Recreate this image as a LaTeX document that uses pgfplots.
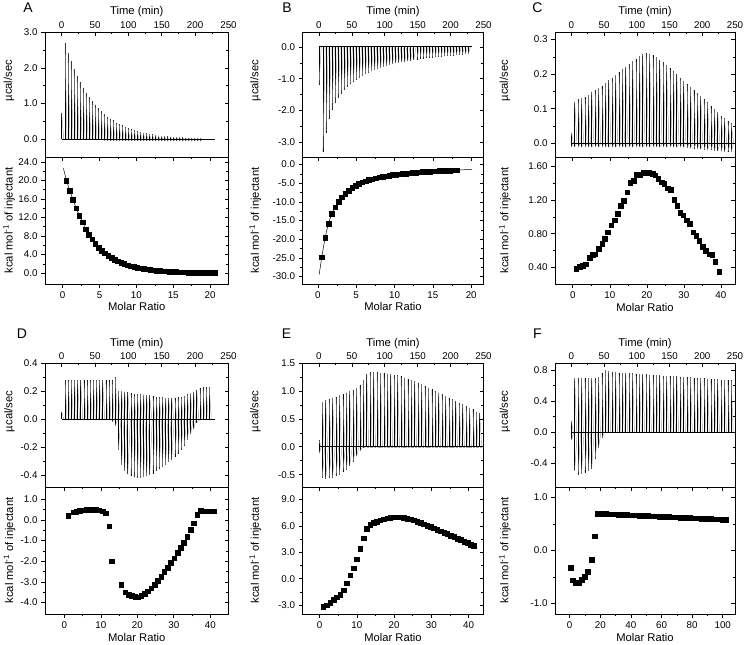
\documentclass[border=0pt]{standalone}
\usepackage{pgfplots}
\usepackage{pgfplotstable}
\pgfplotsset{compat=1.18}
\usepackage{fontspec}
\setmainfont{Liberation Sans}

\pgfplotsset{
  itcbase/.style={scale only axis, clip=true,
    axis line style={line width=0.7pt},
    tick style={line width=0.6pt, black},
    major tick length=4pt, minor tick length=2.4pt,
    minor x tick num=1, minor y tick num=1,
    tick label style={font=\fontsize{9.8}{11}\selectfont},
    label style={font=\fontsize{11.2}{13}\selectfont},
    /pgf/number format/assume math mode=true,
    scaled ticks=false,
    yticklabel style={/pgf/number format/fixed, /pgf/number format/fixed zerofill, /pgf/number format/precision=1},
  },
  outerax/.style={itcbase, tick align=outside, xtick pos=left, ytick pos=left},
  innerax/.style={itcbase, tick align=inside, xtick pos=right, ytick pos=right, yticklabels={}},
  spikeup/.style={black, line width=0.5pt, mark=none},
  spikedn/.style={gray!70, line width=0.5pt, mark=none},
  baseln/.style={black, line width=0.9pt, mark=none},
  sq/.style={only marks, mark=square*, mark size=2.3pt, black},
  fitln/.style={black, line width=0.5pt, mark=none},
}

% ---------------- Panel A ----------------
\pgfplotstableread{
t p n
0 0.75 0
5.0 2.68 0
9.5 2.42 0
14.0 2.19 0
18.5 1.97 0
23.0 1.78 0
27.5 1.61 0
32.0 1.45 0
36.5 1.31 0
41.0 1.19 0
45.5 1.07 0
50.0 0.97 0
54.5 0.87 0
59.0 0.79 0
63.5 0.71 -0.04
68.0 0.64 -0.04
72.5 0.58 -0.05
77.0 0.53 -0.05
81.5 0.47 -0.05
86.0 0.43 -0.05
90.5 0.39 -0.05
95.0 0.35 -0.05
99.5 0.31 -0.05
104.0 0.28 -0.05
108.5 0.26 -0.05
113.0 0.23 -0.05
117.5 0.21 -0.05
122.0 0.19 -0.05
126.5 0.17 -0.05
131.0 0.15 -0.05
135.5 0.14 -0.05
140.0 0.13 -0.05
144.5 0.11 -0.05
149.0 0.10 -0.05
153.5 0.09 -0.05
158.0 0.085 -0.05
162.5 0.08 -0.05
167.0 0.07 -0.05
171.5 0.065 -0.05
176.0 0.06 -0.05
180.5 0.055 -0.05
185.0 0.05 -0.05
189.5 0.05 -0.05
194.0 0.045 -0.05
198.5 0.04 -0.05
203.0 0.04 -0.05
207.5 0.04 -0.05
}\Atop
\pgfplotstableread{
x y
0.50 20.0
0.94 17.8
1.37 15.9
1.81 14.0
2.25 12.4
2.69 11.0
3.12 9.5
3.56 8.3
4.00 7.3
4.43 6.3
4.87 5.5
5.31 4.84
5.74 4.26
6.18 3.75
6.62 3.30
7.06 2.90
7.49 2.55
7.93 2.25
8.37 1.98
8.80 1.74
9.24 1.53
9.68 1.35
10.11 1.19
10.55 1.04
10.99 0.92
11.43 0.81
11.86 0.71
12.30 0.63
12.74 0.55
13.17 0.48
13.61 0.43
14.05 0.37
14.48 0.33
14.92 0.29
15.36 0.26
15.80 0.22
16.23 0.20
16.67 0.17
17.11 0.15
17.54 0.13
17.98 0.12
18.42 0.10
18.85 0.09
19.29 0.08
19.73 0.07
20.17 0.06
20.60 0.05
}\Abot
\pgfplotstableread{
x y
0.1 22.6
0.5 20.1
1.0 17.6
1.5 15.4
2.0 13.4
3.0 10.0
4.0 7.4
5.0 5.4
6.0 3.95
8.0 2.15
10.0 1.18
12.0 0.67
14.0 0.38
16.0 0.21
18.0 0.12
20.6 0.05
}\Afit

% ---------------- Panel B ----------------
\pgfplotstableread{
t p
0 -1.2
6.0 -3.3
10.6 -2.72
15.2 -2.28
19.8 -1.98
24.4 -1.76
29.0 -1.60
33.6 -1.47
38.2 -1.36
42.8 -1.26
47.4 -1.18
52.0 -1.10
56.6 -1.03
61.2 -0.97
65.8 -0.91
70.4 -0.86
75.0 -0.81
79.6 -0.77
84.2 -0.73
88.8 -0.69
93.4 -0.66
98.0 -0.63
102.6 -0.60
107.2 -0.57
111.8 -0.55
116.4 -0.52
121.0 -0.50
125.6 -0.48
130.2 -0.46
134.8 -0.44
139.4 -0.43
144.0 -0.41
148.6 -0.40
153.2 -0.38
157.8 -0.37
162.4 -0.36
167.0 -0.35
171.6 -0.34
176.2 -0.33
180.8 -0.32
185.4 -0.31
190.0 -0.30
194.6 -0.29
199.2 -0.28
203.8 -0.27
208.4 -0.26
213.0 -0.25
217.6 -0.24
222.2 -0.23
226.8 -0.22
}\Btop
\pgfplotstableread{
x y
0.50 -24.8
0.94 -19.6
1.38 -15.8
1.82 -13.2
2.26 -11.4
2.70 -9.9
3.14 -8.8
3.58 -7.8
4.02 -7.0
4.46 -6.3
4.90 -5.7
5.34 -5.2
5.78 -4.8
6.22 -4.45
6.66 -4.15
7.10 -3.9
7.54 -3.65
7.98 -3.45
8.42 -3.25
8.86 -3.1
9.30 -2.95
9.74 -2.8
10.18 -2.7
10.62 -2.6
11.06 -2.5
11.50 -2.4
11.94 -2.3
12.38 -2.22
12.82 -2.15
13.26 -2.08
13.70 -2.0
14.14 -1.95
14.58 -1.89
15.02 -1.83
15.46 -1.78
15.90 -1.73
16.34 -1.68
16.78 -1.64
17.22 -1.6
17.66 -1.56
18.10 -1.52
}\Bbot
\pgfplotstableread{
x y
0.17 -29.5
0.5 -25.0
0.94 -19.6
1.38 -15.8
1.82 -13.1
2.26 -11.3
3.14 -8.8
4.02 -7.0
5.34 -5.2
7.10 -3.9
9.30 -2.95
12.38 -2.22
15.90 -1.73
18.10 -1.52
20.1 -1.3
}\Bfit

% ---------------- Panel C ----------------
\pgfplotstableread{
t p n
0 0.03 -0.01
5.0 0.120 -0.01
10.2 0.127 -0.012
15.4 0.131 -0.012
20.6 0.135 -0.012
25.8 0.140 -0.012
31.0 0.147 -0.012
36.2 0.153 -0.012
41.4 0.160 -0.012
46.6 0.167 -0.012
51.8 0.175 -0.012
57.0 0.182 -0.012
62.2 0.190 -0.012
67.4 0.198 -0.012
72.6 0.206 -0.012
77.8 0.214 -0.012
83.0 0.222 -0.012
88.2 0.230 -0.012
93.4 0.238 -0.012
98.6 0.245 -0.012
103.8 0.252 -0.012
109.0 0.257 -0.012
114.2 0.260 -0.012
119.4 0.259 -0.012
124.6 0.255 -0.012
129.8 0.249 -0.012
135.0 0.242 -0.012
140.2 0.234 -0.012
145.4 0.226 -0.012
150.6 0.217 -0.012
155.8 0.208 -0.012
161.0 0.199 -0.012
166.2 0.190 -0.012
171.4 0.181 -0.012
176.6 0.172 -0.014
181.8 0.163 -0.015
187.0 0.154 -0.016
192.2 0.145 -0.017
197.4 0.136 -0.018
202.6 0.127 -0.019
207.8 0.118 -0.02
213.0 0.109 -0.021
218.2 0.100 -0.022
223.4 0.090 -0.023
228.6 0.080 -0.024
233.8 0.072 -0.025
239.0 0.064 -0.025
244.2 0.058 -0.025
}\Ctop
\pgfplotstableread{
x y
0.9 0.39
1.8 0.41
2.6 0.42
3.5 0.44
4.5 0.52
5.4 0.55
6.1 0.56
7.0 0.62
7.9 0.68
8.6 0.74
9.5 0.82
10.4 0.90
11.3 0.96
12.2 1.04
13.0 1.13
13.8 1.19
14.7 1.29
15.5 1.40
16.4 1.43
17.2 1.50
18.1 1.50
19.1 1.52
19.9 1.52
20.6 1.52
21.5 1.51
22.3 1.49
23.1 1.45
24.0 1.41
24.7 1.39
25.6 1.34
26.5 1.32
27.4 1.20
28.2 1.13
29.0 1.05
29.8 1.02
30.7 0.96
31.5 0.92
32.5 0.82
33.3 0.78
34.1 0.72
35.0 0.65
35.9 0.60
36.8 0.56
37.6 0.55
38.5 0.47
39.5 0.35
}\Cbot

% ---------------- Panel D ----------------
\pgfplotstableread{
t p n
0 0.05 0
5.0 0.275 -0.008
9.7 0.275 -0.008
14.4 0.275 -0.008
19.1 0.275 -0.008
23.8 0.275 -0.008
28.5 0.275 -0.008
33.2 0.275 -0.008
37.9 0.275 -0.008
42.6 0.275 -0.008
47.3 0.275 -0.008
52.0 0.275 -0.008
56.7 0.275 -0.008
61.4 0.275 -0.008
66.1 0.275 -0.008
70.8 0.275 -0.01
75.5 0.275 -0.02
80.2 0.30 -0.05
84.9 0.20 -0.22
89.6 0.20 -0.33
94.3 0.195 -0.37
99.0 0.19 -0.395
103.7 0.185 -0.41
108.4 0.18 -0.415
113.1 0.178 -0.42
117.8 0.175 -0.42
122.5 0.172 -0.415
127.2 0.17 -0.41
131.9 0.168 -0.40
136.6 0.165 -0.39
141.3 0.16 -0.375
146.0 0.158 -0.36
150.7 0.155 -0.345
155.4 0.153 -0.33
160.1 0.152 -0.31
164.8 0.152 -0.29
169.5 0.152 -0.27
174.2 0.155 -0.25
178.9 0.16 -0.22
183.6 0.165 -0.19
188.3 0.175 -0.15
193.0 0.185 -0.11
197.7 0.195 -0.07
202.4 0.21 -0.03
207.1 0.22 -0.01
211.8 0.225 0
216.5 0.225 0
221.2 0.225 0
}\Dtop
\pgfplotstableread{
x y
1.1 0.21
2.4 0.37
3.3 0.41
4.2 0.44
5.1 0.47
6.0 0.49
6.9 0.50
7.8 0.50
8.7 0.49
9.6 0.47
10.5 0.43
11.4 0.33
12.3 -0.31
13.0 -2.00
15.6 -3.15
16.7 -3.50
17.6 -3.62
18.5 -3.68
19.4 -3.73
20.2 -3.74
21.1 -3.68
22.0 -3.58
22.9 -3.45
23.8 -3.30
24.7 -3.13
25.6 -2.95
26.5 -2.75
27.4 -2.52
28.3 -2.30
29.2 -2.08
30.1 -1.85
31.0 -1.60
31.9 -1.35
32.8 -1.10
33.7 -0.80
34.6 -0.48
35.5 -0.15
36.4 0.25
37.3 0.45
38.2 0.43
39.1 0.43
40.0 0.43
40.9 0.43
}\Dbot

% ---------------- Panel E ----------------
\pgfplotstableread{
t p n
0 0.12 -0.12
5.0 0.80 -0.55
10.2 0.83 -0.57
15.4 0.85 -0.56
20.6 0.88 -0.55
25.8 0.90 -0.53
31.0 0.93 -0.50
36.2 0.95 -0.46
41.4 0.97 -0.41
46.6 1.00 -0.35
51.8 1.02 -0.27
57.0 1.05 -0.17
62.2 1.10 -0.08
67.4 1.20 -0.02
72.6 1.30 0
77.8 1.33 0
83.0 1.33 0
88.2 1.33 0
93.4 1.32 0
98.6 1.32 0
103.8 1.31 0
109.0 1.30 0
114.2 1.29 0
119.4 1.28 0
124.6 1.26 0
129.8 1.24 0
135.0 1.22 0
140.2 1.20 0
145.4 1.18 0
150.6 1.15 0
155.8 1.12 0
161.0 1.09 0
166.2 1.06 0
171.4 1.03 0
176.6 1.00 0
181.8 0.97 0
187.0 0.94 0
192.2 0.91 0
197.4 0.88 0
202.6 0.85 0
207.8 0.82 0
213.0 0.79 0
218.2 0.76 0
223.4 0.73 0
228.6 0.70 0
233.8 0.67 0
239.0 0.63 0
244.2 0.60 0
}\Etop
\pgfplotstableread{
x y
1.0 -3.2
1.9 -3.0
2.8 -2.7
3.7 -2.4
4.6 -2.1
5.5 -1.8
6.4 -1.3
7.3 -0.5
8.2 0.4
9.1 1.2
10.0 2.2
10.9 3.4
11.8 4.6
12.7 5.7
13.6 6.15
14.5 6.35
15.4 6.5
16.3 6.65
17.2 6.78
18.1 6.88
19.0 6.95
19.9 7.0
20.8 7.0
21.7 6.98
22.6 6.93
23.5 6.85
24.4 6.75
25.3 6.63
26.2 6.5
27.1 6.36
28.0 6.2
28.9 6.05
29.8 5.9
30.7 5.74
31.6 5.58
32.5 5.42
33.4 5.25
34.3 5.09
35.2 4.92
36.1 4.75
37.0 4.58
37.9 4.41
38.8 4.24
39.7 4.07
40.6 3.9
41.3 3.75
}\Ebot

% ---------------- Panel F ----------------
\pgfplotstableread{
t p n
0 0.15 -0.10
5.0 0.70 -0.50
10.2 0.70 -0.55
15.4 0.70 -0.54
20.6 0.70 -0.52
25.8 0.70 -0.50
31.0 0.70 -0.47
36.2 0.70 -0.35
41.4 0.71 -0.20
46.6 0.76 -0.08
51.8 0.80 0
57.0 0.79 0
62.2 0.78 0
67.4 0.775 0
72.6 0.77 0
77.8 0.767 0
83.0 0.764 0
88.2 0.761 0
93.4 0.758 0
98.6 0.755 0
103.8 0.752 0
109.0 0.749 0
114.2 0.746 0
119.4 0.743 0
124.6 0.740 0
129.8 0.737 0
135.0 0.734 0
140.2 0.731 0
145.4 0.728 0
150.6 0.725 0
155.8 0.722 0
161.0 0.719 0
166.2 0.716 0
171.4 0.713 0
176.6 0.710 0
181.8 0.707 0
187.0 0.704 0
192.2 0.701 0
197.4 0.698 0
202.6 0.695 0
207.8 0.692 0
213.0 0.689 0
218.2 0.686 0
223.4 0.683 0
228.6 0.680 0
233.8 0.676 0
239.0 0.673 0
244.2 0.670 0
}\Ftop
\pgfplotstableread{
x y
0.6 -0.32
2.0 -0.56
3.8 -0.62
5.8 -0.61
7.8 -0.55
9.8 -0.49
11.9 -0.40
14.2 -0.17
16.2 0.27
18.0 0.700
19.95 0.697
21.9 0.695
23.85 0.692
25.8 0.689
27.75 0.686
29.7 0.684
31.65 0.681
33.6 0.678
35.55 0.675
37.5 0.673
39.45 0.670
41.4 0.667
43.35 0.665
45.3 0.662
47.25 0.659
49.2 0.656
51.15 0.654
53.1 0.651
55.05 0.648
57.0 0.645
58.95 0.643
60.9 0.640
62.85 0.637
64.8 0.634
66.75 0.632
68.7 0.629
70.65 0.626
72.6 0.623
74.55 0.621
76.5 0.618
78.45 0.615
80.4 0.612
82.35 0.610
84.3 0.607
86.25 0.604
88.2 0.601
90.15 0.599
92.1 0.596
94.05 0.593
96.0 0.590
97.95 0.588
99.9 0.585
101.85 0.582
}\Fbot

\begin{document}
\begin{tikzpicture}
\useasboundingbox (0pt,0pt) rectangle (745pt,645pt);

% ===== A top =====
\begin{axis}[outerax, at={(45pt,488pt)}, anchor=south west, width=183.5pt, height=125pt,
  xmin=-25, xmax=250, ymin=-0.49, ymax=3.0, xtick=\empty, ytick={0,1,2,3},
  ylabel={µcal/sec}, ylabel style={at={(axis description cs:-0.196,0.61)}, anchor=center}]
  \addplot[spikeup, quiver={u=0, v=\thisrow{p}}] table[x=t, y expr=0]{\Atop};
  \addplot[spikedn, quiver={u=3, v=-1*(\thisrow{p})}] table[x=t, y=p]{\Atop};
  \addplot[spikeup, quiver={u=0, v=\thisrow{n}}] table[x=t, y expr=0]{\Atop};
  \addplot[spikedn, quiver={u=3, v=-1*(\thisrow{n})}] table[x=t, y=n]{\Atop};
  \addplot[baseln] coordinates {(0,0) (230,0)};
\end{axis}
\begin{axis}[innerax, at={(45pt,488pt)}, anchor=south west, width=183.5pt, height=125pt,
  xmin=-25, xmax=250, ymin=-0.49, ymax=3.0, xtick={0,50,...,250}, ytick={0,1,2,3},
  xticklabel pos=right, xlabel={Time (min)}, xlabel style={at={(axis description cs:0.5,1.16)}, anchor=center}]
\end{axis}
% ===== A bottom =====
\begin{axis}[outerax, at={(45pt,361pt)}, anchor=south west, width=183.5pt, height=127pt,
  xmin=-2.4, xmax=22.5, ymin=-2.35, ymax=25.07, xtick={0,5,...,20}, ytick={0,4,...,24},
  xlabel={Molar Ratio}, xlabel style={at={(axis description cs:0.5,-0.181)}, anchor=center},
  ylabel={kcal mol\textsuperscript{-1} of injectant}, ylabel style={at={(axis description cs:-0.196,0.5)}, anchor=center}]
  \addplot[fitln] table[x=x,y=y]{\Afit};
  \addplot[sq] table[x=x,y=y]{\Abot};
\end{axis}
\begin{axis}[innerax, at={(45pt,361pt)}, anchor=south west, width=183.5pt, height=127pt,
  xmin=-2.4, xmax=22.5, ymin=-2.35, ymax=25.07, xtick={0,5,...,20}, ytick={0,4,...,24}, xticklabels={}]
\end{axis}

% ===== B top =====
\begin{axis}[outerax, at={(302.5pt,488pt)}, anchor=south west, width=181pt, height=125pt,
  xmin=-25, xmax=250, ymin=-3.46, ymax=0.47, xtick=\empty, ytick={-3,-2,-1,0},
  ylabel={µcal/sec}, ylabel style={at={(axis description cs:-0.26,0.61)}, anchor=center}]
  \addplot[spikeup, quiver={u=0, v=\thisrow{p}}] table[x=t, y expr=0]{\Btop};
  \addplot[spikedn, quiver={u=3.5, v=-1*(\thisrow{p})}] table[x=t, y=p]{\Btop};
  \addplot[baseln] coordinates {(0,0) (232,0)};
\end{axis}
\begin{axis}[innerax, at={(302.5pt,488pt)}, anchor=south west, width=181pt, height=125pt,
  xmin=-25, xmax=250, ymin=-3.46, ymax=0.47, xtick={0,50,...,250}, ytick={-3,-2,-1,0},
  xticklabel pos=right, xlabel={Time (min)}, xlabel style={at={(axis description cs:0.5,1.16)}, anchor=center}]
\end{axis}
% ===== B bottom =====
\begin{axis}[outerax, at={(302.5pt,361pt)}, anchor=south west, width=181pt, height=127pt,
  xmin=-2, xmax=21.6, ymin=-32, ymax=2, xtick={0,5,...,20}, ytick={-30,-25,...,0},
  xlabel={Molar Ratio}, xlabel style={at={(axis description cs:0.5,-0.181)}, anchor=center},
  ylabel={kcal mol\textsuperscript{-1} of injectant}, ylabel style={at={(axis description cs:-0.26,0.5)}, anchor=center}]
  \addplot[fitln] table[x=x,y=y]{\Bfit};
  \addplot[sq] table[x=x,y=y]{\Bbot};
\end{axis}
\begin{axis}[innerax, at={(302.5pt,361pt)}, anchor=south west, width=181pt, height=127pt,
  xmin=-2, xmax=21.6, ymin=-32, ymax=2, xtick={0,5,...,20}, ytick={-30,-25,...,0}, xticklabels={}]
\end{axis}

% ===== C top =====
\begin{axis}[outerax, at={(555pt,488pt)}, anchor=south west, width=180pt, height=125pt,
  xmin=-25, xmax=250, ymin=-0.04, ymax=0.322, xtick=\empty, ytick={0,0.1,0.2,0.3},
  ylabel={µcal/sec}, ylabel style={at={(axis description cs:-0.278,0.61)}, anchor=center}]
  \addplot[spikeup, quiver={u=0, v=\thisrow{p}}] table[x=t, y expr=0]{\Ctop};
  \addplot[spikedn, quiver={u=3.5, v=-1*(\thisrow{p})}] table[x=t, y=p]{\Ctop};
  \addplot[spikeup, quiver={u=0, v=\thisrow{n}}] table[x=t, y expr=0]{\Ctop};
  \addplot[spikedn, quiver={u=3.5, v=-1*(\thisrow{n})}] table[x=t, y=n]{\Ctop};
  \addplot[baseln] coordinates {(0,0) (247,0)};
\end{axis}
\begin{axis}[innerax, at={(555pt,488pt)}, anchor=south west, width=180pt, height=125pt,
  xmin=-25, xmax=250, ymin=-0.04, ymax=0.322, xtick={0,50,...,250}, ytick={0,0.1,0.2,0.3},
  xticklabel pos=right, xlabel={Time (min)}, xlabel style={at={(axis description cs:0.5,1.16)}, anchor=center}]
\end{axis}
% ===== C bottom =====
\begin{axis}[outerax, at={(555pt,361pt)}, anchor=south west, width=180pt, height=127pt,
  xmin=-4.8, xmax=43.8, ymin=0.206, ymax=1.707, xtick={0,10,...,40}, ytick={0.4,0.8,1.2,1.6},
  yticklabel style={/pgf/number format/precision=2},
  xlabel={Molar Ratio}, xlabel style={at={(axis description cs:0.5,-0.185)}, anchor=center},
  ylabel={kcal mol\textsuperscript{-1} of injectant}, ylabel style={at={(axis description cs:-0.278,0.5)}, anchor=center}]
  \addplot[sq] table[x=x,y=y]{\Cbot};
\end{axis}
\begin{axis}[innerax, at={(555pt,361pt)}, anchor=south west, width=180pt, height=127pt,
  xmin=-4.8, xmax=43.8, ymin=0.206, ymax=1.707, xtick={0,10,...,40}, ytick={0.4,0.8,1.2,1.6}, xticklabels={}]
\end{axis}

% ===== D top =====
\begin{axis}[outerax, at={(45pt,158pt)}, anchor=south west, width=183.5pt, height=124pt,
  xmin=-25, xmax=250, ymin=-0.486, ymax=0.4, xtick=\empty, ytick={-0.4,-0.2,0,0.2,0.4},
  ylabel={µcal/sec}, ylabel style={at={(axis description cs:-0.193,0.61)}, anchor=center}]
  \addplot[spikeup, quiver={u=0, v=\thisrow{p}}] table[x=t, y expr=0]{\Dtop};
  \addplot[spikedn, quiver={u=3, v=-1*(\thisrow{p})}] table[x=t, y=p]{\Dtop};
  \addplot[spikeup, quiver={u=0, v=\thisrow{n}}] table[x=t, y expr=0]{\Dtop};
  \addplot[spikedn, quiver={u=4, v=-1*(\thisrow{n})}] table[x=t, y=n]{\Dtop};
  \addplot[baseln] coordinates {(0,0) (230,0)};
\end{axis}
\begin{axis}[innerax, at={(45pt,158pt)}, anchor=south west, width=183.5pt, height=124pt,
  xmin=-25, xmax=250, ymin=-0.486, ymax=0.4, xtick={0,50,...,250}, ytick={-0.4,-0.2,0,0.2,0.4},
  xticklabel pos=right, xlabel={Time (min)}, xlabel style={at={(axis description cs:0.5,1.16)}, anchor=center}]
\end{axis}
% ===== D bottom =====
\begin{axis}[outerax, at={(45pt,31pt)}, anchor=south west, width=183.5pt, height=127pt,
  xmin=-5.3, xmax=45, ymin=-4.56, ymax=1.6, xtick={0,10,...,40}, ytick={-4,-3,...,1},
  xlabel={Molar Ratio}, xlabel style={at={(axis description cs:0.5,-0.188)}, anchor=center},
  ylabel={kcal mol\textsuperscript{-1} of injectant}, ylabel style={at={(axis description cs:-0.193,0.5)}, anchor=center}]
  \addplot[sq] table[x=x,y=y]{\Dbot};
\end{axis}
\begin{axis}[innerax, at={(45pt,31pt)}, anchor=south west, width=183.5pt, height=127pt,
  xmin=-5.3, xmax=45, ymin=-4.56, ymax=1.6, xtick={0,10,...,40}, ytick={-4,-3,...,1}, xticklabels={}]
\end{axis}

% ===== E top =====
\begin{axis}[outerax, at={(302.5pt,158pt)}, anchor=south west, width=181pt, height=124pt,
  xmin=-25, xmax=250, ymin=-0.72, ymax=1.5, xtick=\empty, ytick={-0.5,0,0.5,1,1.5},
  ylabel={µcal/sec}, ylabel style={at={(axis description cs:-0.26,0.61)}, anchor=center}]
  \addplot[spikeup, quiver={u=0, v=\thisrow{p}}] table[x=t, y expr=0]{\Etop};
  \addplot[spikedn, quiver={u=3, v=-1*(\thisrow{p})}] table[x=t, y=p]{\Etop};
  \addplot[spikeup, quiver={u=0, v=\thisrow{n}}] table[x=t, y expr=0]{\Etop};
  \addplot[spikedn, quiver={u=4, v=-1*(\thisrow{n})}] table[x=t, y=n]{\Etop};
  \addplot[baseln] coordinates {(0,0) (248,0)};
\end{axis}
\begin{axis}[innerax, at={(302.5pt,158pt)}, anchor=south west, width=181pt, height=124pt,
  xmin=-25, xmax=250, ymin=-0.72, ymax=1.5, xtick={0,50,...,250}, ytick={-0.5,0,0.5,1,1.5},
  xticklabel pos=right, xlabel={Time (min)}, xlabel style={at={(axis description cs:0.5,1.16)}, anchor=center}]
\end{axis}
% ===== E bottom =====
\begin{axis}[outerax, at={(302.5pt,31pt)}, anchor=south west, width=181pt, height=127pt,
  xmin=-4.6, xmax=44, ymin=-4.0, ymax=10.42, xtick={0,10,...,40}, ytick={-3,0,3,6,9},
  xlabel={Molar Ratio}, xlabel style={at={(axis description cs:0.5,-0.188)}, anchor=center},
  ylabel={kcal mol\textsuperscript{-1} of injectant}, ylabel style={at={(axis description cs:-0.26,0.5)}, anchor=center}]
  \addplot[sq] table[x=x,y=y]{\Ebot};
\end{axis}
\begin{axis}[innerax, at={(302.5pt,31pt)}, anchor=south west, width=181pt, height=127pt,
  xmin=-4.6, xmax=44, ymin=-4.0, ymax=10.42, xtick={0,10,...,40}, ytick={-3,0,3,6,9}, xticklabels={}]
\end{axis}

% ===== F top =====
\begin{axis}[outerax, at={(555pt,158pt)}, anchor=south west, width=180pt, height=124pt,
  xmin=-25, xmax=250, ymin=-0.707, ymax=0.893, xtick=\empty, ytick={-0.4,0,0.4,0.8},
  ylabel={µcal/sec}, ylabel style={at={(axis description cs:-0.278,0.61)}, anchor=center}]
  \addplot[spikeup, quiver={u=0, v=\thisrow{p}}] table[x=t, y expr=0]{\Ftop};
  \addplot[spikedn, quiver={u=3, v=-1*(\thisrow{p})}] table[x=t, y=p]{\Ftop};
  \addplot[spikeup, quiver={u=0, v=\thisrow{n}}] table[x=t, y expr=0]{\Ftop};
  \addplot[spikedn, quiver={u=4, v=-1*(\thisrow{n})}] table[x=t, y=n]{\Ftop};
  \addplot[baseln] coordinates {(0,0) (247,0)};
\end{axis}
\begin{axis}[innerax, at={(555pt,158pt)}, anchor=south west, width=180pt, height=124pt,
  xmin=-25, xmax=250, ymin=-0.707, ymax=0.893, xtick={0,50,...,250}, ytick={-0.4,0,0.4,0.8},
  xticklabel pos=right, xlabel={Time (min)}, xlabel style={at={(axis description cs:0.5,1.16)}, anchor=center}]
\end{axis}
% ===== F bottom =====
\begin{axis}[outerax, at={(555pt,31pt)}, anchor=south west, width=180pt, height=127pt,
  xmin=-9.6, xmax=108, ymin=-1.2, ymax=1.2, xtick={0,20,...,100}, ytick={-1,0,1},
  xlabel={Molar Ratio}, xlabel style={at={(axis description cs:0.5,-0.188)}, anchor=center},
  ylabel={kcal mol\textsuperscript{-1} of injectant}, ylabel style={at={(axis description cs:-0.278,0.5)}, anchor=center}]
  \addplot[sq] table[x=x,y=y]{\Fbot};
\end{axis}
\begin{axis}[innerax, at={(555pt,31pt)}, anchor=south west, width=180pt, height=127pt,
  xmin=-9.6, xmax=108, ymin=-1.2, ymax=1.2, xtick={0,20,...,100}, ytick={-1,0,1}, xticklabels={}]
\end{axis}

% panel letters
\node[font=\fontsize{14}{16}\selectfont] at (28pt,637pt) {A};
\node[font=\fontsize{14}{16}\selectfont] at (287pt,637pt) {B};
\node[font=\fontsize{14}{16}\selectfont] at (537.5pt,637pt) {C};
\node[font=\fontsize{14}{16}\selectfont] at (22pt,311pt) {D};
\node[font=\fontsize{14}{16}\selectfont] at (286.5pt,311pt) {E};
\node[font=\fontsize{14}{16}\selectfont] at (537.5pt,311pt) {F};
\end{tikzpicture}
\end{document}
